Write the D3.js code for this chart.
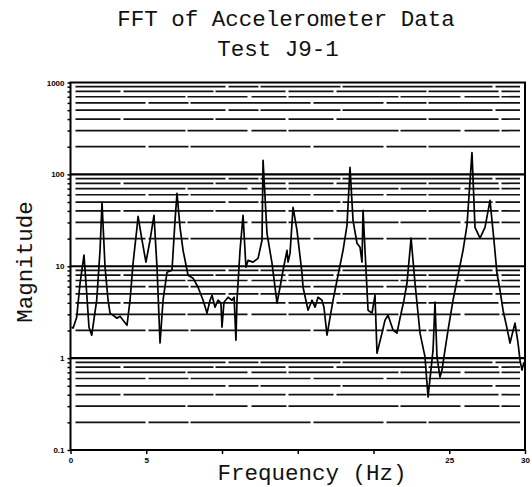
<!DOCTYPE html>
<html>
<head>
<meta charset="utf-8">
<script src="https://cdn.jsdelivr.net/npm/d3@7"></script>
<style>
  body { margin: 0; background: #fff; }
  svg { display: block; }
  .mono { font-family: 'Liberation Mono', 'Courier New', monospace; fill: #111; font-size: 22.5px; }
  .tick text { font-family: 'Liberation Sans', Arial, sans-serif; font-weight: bold; font-size: 8px; fill: #000; }
</style>
</head>
<body>
<div id="chart"></div>
<script>
// frequency (Hz) and FFT magnitude
const freq = [0.07, 0.17, 0.41, 0.63, 0.89, 1.07, 1.22, 1.40, 1.73, 1.95,
  2.08, 2.28, 2.48, 2.61, 2.81, 3.07, 3.27, 3.47, 3.73, 3.93,
  4.13, 4.39, 4.46, 4.72, 4.98, 5.25, 5.51, 5.71, 5.91, 6.11,
  6.37, 6.70, 6.90, 7.03, 7.23, 7.43, 7.76, 8.09, 8.42, 8.75,
  9.01, 9.21, 9.34, 9.54, 9.74, 9.93, 10.0, 10.13, 10.40, 10.66,
  10.80, 10.92, 10.99, 11.19, 11.39, 11.58, 11.72, 12.05, 12.38, 12.64,
  12.71, 12.97, 13.30, 13.50, 13.63, 13.83, 14.03, 14.29, 14.36, 14.49,
  14.69, 14.95, 15.28, 15.35, 15.68, 15.94, 16.14, 16.34, 16.60, 16.73,
  16.93, 17.33, 17.66, 17.99, 18.25, 18.45, 18.65, 18.91, 19.11, 19.24,
  19.31, 19.44, 19.64, 19.90, 20.10, 20.23, 20.56, 20.76, 20.96, 21.29,
  21.55, 21.75, 22.01, 22.21, 22.48, 22.74, 23.07, 23.40, 23.60, 23.86,
  23.93, 24.06, 24.19, 24.39, 24.52, 24.65, 24.92, 25.25, 25.58, 25.91,
  26.17, 26.50, 26.70, 27.03, 27.36, 27.69, 27.95, 28.15, 28.35, 28.55,
  28.81, 29.01, 29.14, 29.34, 29.54, 29.67, 29.80, 29.93];
const magnitude = [2.17, 2.12, 2.79, 6.53, 13.2, 5.09, 2.17, 1.78, 4.27, 14.9,
  49.6, 9.75, 4.27, 3.09, 2.93, 2.72, 2.86, 2.59, 2.28, 4.27,
  10.8, 26.5, 34.9, 19.2, 11.1, 19.2, 35.8, 9.75, 1.46, 4.27,
  8.6, 9.05, 31.6, 62.1, 26.5, 14.9, 7.98, 7.41, 5.91, 4.27,
  3.09, 4.27, 4.84, 3.58, 4.27, 3.96, 2.17, 4.06, 4.6, 4.27,
  4.6, 1.57, 4.27, 14.9, 35.8, 9.75, 11.6, 11.1, 12.2, 19.2,
  142, 22.8, 10.8, 5.91, 3.96, 5.91, 9.05, 14.9, 11.1, 13.8,
  43.8, 24.6, 8.39, 5.91, 3.32, 4.27, 3.58, 4.6, 4.27, 3.58,
  1.78, 4.27, 7.98, 14.9, 27.9, 119, 31.6, 17.8, 16.1, 11.1,
  40.6, 14.9, 3.32, 3.09, 4.84, 1.13, 1.87, 2.59, 2.93, 2.02,
  1.87, 2.72, 4.27, 6.53, 20.2, 6.53, 1.87, 1.03, 0.377, 0.951,
  1.22, 4.06, 1.03, 0.621, 0.741, 1.03, 2.02, 4.27, 7.98, 14.9,
  27.9, 173, 26.5, 20.2, 26.5, 52.2, 19.2, 8.39, 5.48, 3.32,
  2.12, 1.46, 1.78, 2.40, 1.46, 0.951, 0.741, 0.9];

const yTickValues = [0.1, 1, 10, 100, 1000];
const yTickLabels = ['0.1', '1', '10', '100', '1000'];
const xTickValues = [0, 5, 10, 15, 20, 25, 30];
const xTickLabels = ['0', '5', '', '', '', '25', '30'];

const width = 532;
const height = 487;
const plotLeft = 70.5, plotRight = 525, plotTop = 82.5, plotBottom = 450;

const x = d3.scaleLinear().domain([0, 30]).range([plotLeft, plotRight]);
const y = d3.scaleLog().domain([0.1, 1000]).range([plotBottom, plotTop]);

// minor log gridline values 2..9 in each decade
const minorValues = [];
yTickValues.slice(0, -1).forEach((d) => {
  for (let k = 2; k <= 9; k++) minorValues.push(+(d * k).toPrecision(3));
});

const svg = d3.select('#chart').append('svg').attr('width', width).attr('height', height);

// titles
svg.append('text').attr('class', 'mono').attr('x', 286).attr('y', 26)
  .attr('text-anchor', 'middle').text('FFT of Accelerometer Data');
svg.append('text').attr('class', 'mono').attr('x', 278).attr('y', 56)
  .attr('text-anchor', 'middle').text('Test J9-1');

// horizontal gridlines (broken, like the scanned plot)
const dashes = ['70,3,40,2,120,3', '110,2,60,4,35,2', '45,3,90,2,70,3', '150,3,30,2,80,2'];
svg.append('g')
  .selectAll('line')
  .data(minorValues)
  .join('line')
  .attr('x1', x(0) + 5)
  .attr('x2', x(30) - 5)
  .attr('y1', (d) => y(d))
  .attr('y2', (d) => y(d))
  .attr('stroke', '#111')
  .attr('stroke-width', 1.7)
  .attr('stroke-dasharray', (d, i) => dashes[i % dashes.length]);

svg.append('g')
  .selectAll('line')
  .data(yTickValues.slice(1, -1))
  .join('line')
  .attr('x1', x(0))
  .attr('x2', x(30))
  .attr('y1', (d) => y(d))
  .attr('y2', (d) => y(d))
  .attr('stroke', '#000')
  .attr('stroke-width', 2.2);

// frame
svg.append('rect')
  .attr('x', plotLeft).attr('y', plotTop)
  .attr('width', plotRight - plotLeft).attr('height', plotBottom - plotTop)
  .attr('fill', 'none').attr('stroke', '#000').attr('stroke-width', 2);

// axes
const yAxis = d3.axisLeft(y)
  .tickValues(yTickValues.concat(minorValues))
  .tickSize(3)
  .tickFormat((d) => {
    const i = yTickValues.indexOf(d);
    return i >= 0 ? yTickLabels[i] : '';
  });
svg.append('g').attr('transform', 'translate(' + plotLeft + ',0)').call(yAxis)
  .call((g) => g.select('.domain').remove())
  .call((g) => g.selectAll('.tick line').attr('stroke-width', 1.5));

const xAxis = d3.axisBottom(x)
  .tickValues(xTickValues)
  .tickSize(4)
  .tickFormat((d, i) => xTickLabels[i]);
svg.append('g').attr('transform', 'translate(0,' + plotBottom + ')').call(xAxis)
  .call((g) => g.select('.domain').remove())
  .call((g) => g.selectAll('.tick line').attr('stroke-width', 1.5));

// spectrum curve
const points = freq.map((f, i) => [f, magnitude[i]]);
svg.append('path')
  .datum(points)
  .attr('fill', 'none')
  .attr('stroke', '#000')
  .attr('stroke-width', 1.7)
  .attr('stroke-linejoin', 'round')
  .attr('d', d3.line().x((d) => x(d[0])).y((d) => y(d[1])));

// axis titles
svg.append('text').attr('class', 'mono').attr('x', 312).attr('y', 480)
  .attr('text-anchor', 'middle').text('Frequency (Hz)');
svg.append('text').attr('class', 'mono')
  .attr('transform', 'translate(32,262) rotate(-90)')
  .attr('text-anchor', 'middle').text('Magnitude');
</script>
</body>
</html>
